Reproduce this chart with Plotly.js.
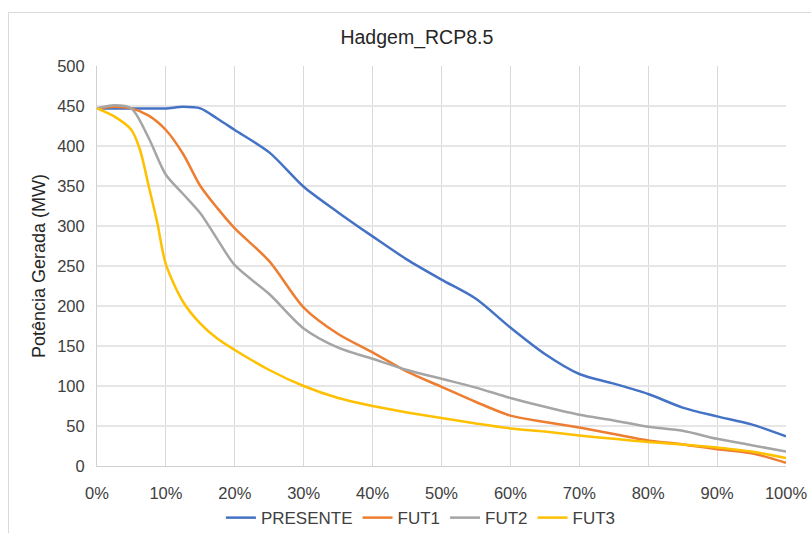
<!DOCTYPE html>
<html>
<head>
<meta charset="utf-8">
<script src="https://cdn.plot.ly/plotly-3.0.1.min.js"></script>
<style>
  html, body { margin: 0; padding: 0; background: #fff; overflow: hidden; }
  #frame { position: absolute; left: 8px; top: 12px; width: 820px; height: 540px; border: 1px solid #d9d9d9; box-sizing: border-box; }
  #chart { position: absolute; left: 0; top: 0; width: 811px; height: 533px; }
</style>
</head>
<body>
<div id="frame"></div>
<div id="chart"></div>
<script>
const chartTitle = "Hadgem_RCP8.5";
const yTitle = "Potência Gerada (MW)";
const seriesNames = ["PRESENTE", "FUT1", "FUT2", "FUT3"];
const seriesColors = ["#4472C4", "#ED7D31", "#A5A5A5", "#FFC000"];
const xTickVals = [0, 10, 20, 30, 40, 50, 60, 70, 80, 90, 100];
const xTickText = ["0%", "10%", "20%", "30%", "40%", "50%", "60%", "70%", "80%", "90%", "100%"];
const yTickVals = [0, 50, 100, 150, 200, 250, 300, 350, 400, 450, 500];

const presenteX = [0, 2.5, 5, 7.5, 10, 12.5, 15, 17.5, 20, 25, 30, 35, 40, 45, 50, 55, 60, 65, 70, 75, 80, 85, 90, 95, 100];
const presenteY = [447, 447, 447, 447, 447, 449, 447, 434, 420, 392, 349, 317, 287, 258, 233, 209, 173, 140, 115, 103, 90, 73, 62, 52, 37];

const fut1X = [0, 2.5, 5, 7.5, 10, 12.5, 15, 17.5, 20, 25, 30, 35, 40, 45, 50, 55, 60, 65, 70, 75, 80, 85, 90, 95, 100];
const fut1Y = [447, 449, 447, 438, 420, 390, 350, 322, 297, 256, 198, 165, 142, 118, 99, 80, 63, 55, 48, 40, 32, 27, 21, 16, 4];

const fut2X = [0, 2.5, 5, 7.5, 10, 12.5, 15, 17.5, 20, 25, 30, 35, 40, 45, 50, 55, 60, 65, 70, 75, 80, 85, 90, 95, 100];
const fut2Y = [447, 451, 447, 410, 364, 340, 316, 283, 251, 215, 172, 148, 134, 120, 109, 98, 85, 74, 64, 57, 49, 44, 34, 26, 18];

const fut3X = [0, 2.5, 5, 6.25, 7.5, 8.75, 10, 12.5, 15, 17.5, 20, 25, 30, 35, 40, 45, 50, 55, 60, 65, 70, 75, 80, 85, 90, 95, 100];
const fut3Y = [447, 437, 420, 395, 350, 304, 252, 205, 178, 159, 145, 120, 100, 85, 75, 67, 60, 53, 47, 43, 38, 34, 30, 27, 23, 18, 10];

const xs = [presenteX, fut1X, fut2X, fut3X];
const ys = [presenteY, fut1Y, fut2Y, fut3Y];

const traces = seriesNames.map((n, i) => ({
  type: "scatter",
  mode: "lines",
  name: n,
  x: xs[i],
  y: ys[i],
  line: { color: seriesColors[i], width: 2.5, shape: "spline", smoothing: 0.8 },
  hoverinfo: "skip"
}));

const font = "Liberation Sans, Arial, sans-serif";

const layout = {
  width: 811,
  height: 533,
  paper_bgcolor: "rgba(0,0,0,0)",
  plot_bgcolor: "#fff",
  margin: { l: 97, r: 25, t: 66, b: 67, autoexpand: false },
  font: { family: font, color: "#404040", size: 16 },
  title: {
    text: chartTitle,
    font: { family: font, size: 19.5, color: "#262626" },
    x: 0.514, xref: "container", xanchor: "center",
    y: 0.93, yref: "container", yanchor: "middle"
  },
  xaxis: {
    range: [0, 100],
    tickvals: xTickVals,
    ticktext: xTickText,
    showgrid: true,
    gridcolor: "#d9d9d9",
    gridwidth: 1,
    zeroline: false,
    showline: true,
    linecolor: "#d0d0d0",
    linewidth: 1,
    ticks: "outside",
    ticklen: 12,
    tickcolor: "rgba(0,0,0,0)",
    tickfont: { family: font, size: 16.5, color: "#404040" },
    fixedrange: true
  },
  yaxis: {
    range: [0, 500],
    tickvals: yTickVals,
    showgrid: true,
    gridcolor: "#e6e6e6",
    gridwidth: 2,
    zeroline: false,
    showline: true,
    linecolor: "#d0d0d0",
    linewidth: 1,
    ticks: "outside",
    ticklen: 8,
    tickcolor: "rgba(0,0,0,0)",
    tickfont: { family: font, size: 16.5, color: "#404040" },
    title: { text: yTitle, font: { family: font, size: 18, color: "#262626" }, standoff: 6 },
    fixedrange: true
  },
  legend: {
    orientation: "h",
    xref: "container",
    x: 0.519, xanchor: "center",
    yref: "container",
    y: 0.028, yanchor: "middle",
    font: { family: font, size: 17, color: "#404040" },
    itemwidth: 30,
    tracegroupgap: 0
  },
  showlegend: true
};

Plotly.newPlot("chart", traces, layout, { displayModeBar: false, staticPlot: true });
</script>
</body>
</html>
